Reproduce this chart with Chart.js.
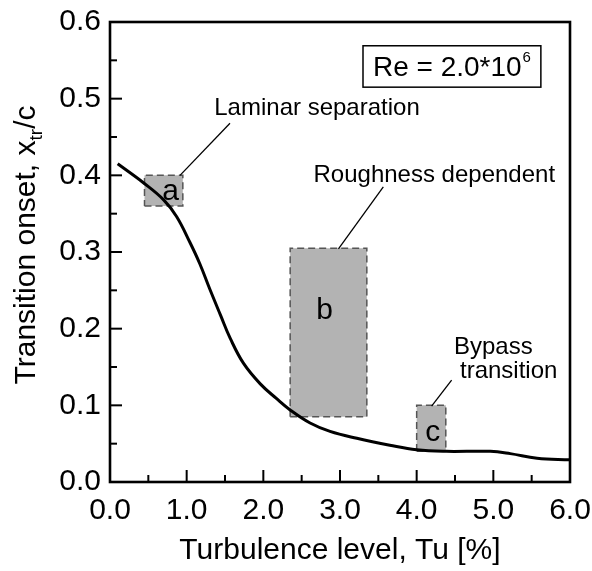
<!DOCTYPE html>
<html><head><meta charset="utf-8">
<script src="https://cdn.jsdelivr.net/npm/chart.js@4.4.1/dist/chart.umd.min.js"></script>
<style>html,body{margin:0;padding:0;background:#fff}canvas{display:block}</style>
</head><body>
<canvas id="c" width="592" height="571"></canvas>
<script>
// ---- data ----
const turbulence      = [0.10, 0.44, 0.70, 0.87, 1.04, 1.17, 1.30, 1.44, 1.57, 1.74, 1.96, 2.17, 2.35, 2.61, 2.87, 3.22, 3.65, 4.00, 4.39, 4.96, 5.22, 5.57, 6.00];
const transitionOnset = [0.415,0.390,0.368,0.346,0.313,0.285,0.252,0.218,0.187,0.155,0.128,0.109,0.094,0.077,0.066,0.057,0.048,0.042,0.040,0.040,0.037,0.031,0.029];
const xTickValues = [0, 1, 2, 3, 4, 5, 6];
const yTickValues = [0, 0.1, 0.2, 0.3, 0.4, 0.5, 0.6];
const boxNames = ['a', 'b', 'c'];
const boxX0 = [0.45, 2.35, 4.00];
const boxX1 = [0.95, 3.35, 4.38];
const boxY0 = [0.36, 0.085, 0.040];
const boxY1 = [0.40, 0.305, 0.100];
const boxLabelX = [0.79, 2.80, 4.21];
const boxLabelY = [0.379, 0.224, 0.064];
const annoTexts = ['Laminar separation', 'Roughness dependent', 'Bypass', 'transition'];
const annoX = [2.70, 4.23, 5.00, 5.20];
const annoY = [0.487, 0.400, 0.176, 0.144];
const leaderX0 = [1.565, 3.565, 4.456];
const leaderY0 = [0.468, 0.385, 0.133];
const leaderX1 = [0.913, 2.98, 4.195];
const leaderY1 = [0.400, 0.304, 0.099];
const reBoxX = [3.30, 5.62];
const reBoxY = [0.515, 0.569];
const reText = 'Re = 2.0*10';
const reExp = '6';
const xTitle = 'Turbulence level, Tu [%]';
const yTitleParts = ['Transition onset, x', 'tr', '/c'];

const FONT = '"Liberation Sans", Arial, Helvetica, sans-serif';

// ---- datasets ----
const datasets = [];
datasets.push({
  label: 'curve',
  data: turbulence.map((x, i) => ({x, y: transitionOnset[i]})),
  showLine: true, borderColor: '#000', borderWidth: 3, pointRadius: 0,
  tension: 0.4, fill: false, order: 0
});
boxNames.forEach((n, i) => {
  datasets.push({
    label: 'box ' + n,
    data: [
      {x: boxX0[i], y: boxY0[i]}, {x: boxX1[i], y: boxY0[i]},
      {x: boxX1[i], y: boxY1[i]}, {x: boxX0[i], y: boxY1[i]},
      {x: boxX0[i], y: boxY0[i]}
    ],
    showLine: true, borderColor: '#555', borderWidth: 1.5, borderDash: [7, 4],
    backgroundColor: '#b3b3b3', fill: 'shape', pointRadius: 0, tension: 0, order: 2
  });
});
leaderX0.forEach((x, i) => {
  datasets.push({
    label: 'leader ' + i,
    data: [{x, y: leaderY0[i]}, {x: leaderX1[i], y: leaderY1[i]}],
    showLine: true, borderColor: '#000', borderWidth: 1.3, pointRadius: 0, fill: false, order: 1
  });
});

// ---- decorations plugin ----
const deco = {
  id: 'deco',
  afterDatasetsDraw(chart) {
    const ctx = chart.ctx, xs = chart.scales.x, ys = chart.scales.y, ca = chart.chartArea;
    ctx.save();
    // inward ticks
    ctx.strokeStyle = '#000'; ctx.lineWidth = 2;
    for (let k = 0; k <= 12; k++) {
      const px = xs.getPixelForValue(k * 0.5);
      const len = k % 2 === 0 ? 12 : 7;
      ctx.beginPath(); ctx.moveTo(px, ca.bottom); ctx.lineTo(px, ca.bottom - len); ctx.stroke();
    }
    for (let k = 0; k <= 12; k++) {
      const py = ys.getPixelForValue(k * 0.05);
      const len = k % 2 === 0 ? 12 : 7;
      ctx.beginPath(); ctx.moveTo(ca.left, py); ctx.lineTo(ca.left + len, py); ctx.stroke();
    }
    // frame
    ctx.lineWidth = 2.6;
    ctx.strokeRect(ca.left, ca.top, ca.right - ca.left, ca.bottom - ca.top);

    // box letters
    ctx.fillStyle = '#000';
    ctx.textAlign = 'center'; ctx.textBaseline = 'middle';
    ctx.font = '30px ' + FONT;
    boxNames.forEach((n, i) => {
      ctx.fillText(n, xs.getPixelForValue(boxLabelX[i]), ys.getPixelForValue(boxLabelY[i]));
    });
    // annotations
    ctx.font = '24px ' + FONT;
    annoTexts.forEach((t, i) => {
      ctx.fillText(t, xs.getPixelForValue(annoX[i]), ys.getPixelForValue(annoY[i]));
    });
    // Re box
    const bx0 = xs.getPixelForValue(reBoxX[0]), bx1 = xs.getPixelForValue(reBoxX[1]);
    const by0 = ys.getPixelForValue(reBoxY[1]), by1 = ys.getPixelForValue(reBoxY[0]);
    ctx.lineWidth = 1.5; ctx.strokeStyle = '#000';
    ctx.strokeRect(bx0, by0, bx1 - bx0, by1 - by0);
    ctx.font = '28px ' + FONT;
    const w1 = ctx.measureText(reText).width;
    ctx.font = '15px ' + FONT;
    const w2 = ctx.measureText(reExp).width;
    const cx = (bx0 + bx1) / 2, cy = (by0 + by1) / 2 + 2;
    const sx = cx - (w1 + w2 + 1) / 2;
    ctx.textAlign = 'left'; ctx.textBaseline = 'middle';
    ctx.font = '28px ' + FONT;
    ctx.fillText(reText, sx, cy);
    ctx.font = '15px ' + FONT;
    ctx.fillText(reExp, sx + w1 + 1, cy - 11);

    // y title with subscript
    ctx.translate(25, 245);
    ctx.rotate(-Math.PI / 2);
    const f1 = '30px ' + FONT, f2 = '19px ' + FONT;
    ctx.font = f1; const a = ctx.measureText(yTitleParts[0]).width;
    ctx.font = f2; const b = ctx.measureText(yTitleParts[1]).width;
    ctx.font = f1; const c = ctx.measureText(yTitleParts[2]).width;
    let x0 = -(a + b + c) / 2;
    ctx.textBaseline = 'alphabetic';
    ctx.font = f1; ctx.fillText(yTitleParts[0], x0, 10);
    ctx.font = f2; ctx.fillText(yTitleParts[1], x0 + a, 17);
    ctx.font = f1; ctx.fillText(yTitleParts[2], x0 + a + b, 10);
    ctx.restore();
  }
};

new Chart(document.getElementById('c'), {
  type: 'scatter',
  data: { datasets },
  options: {
    responsive: false, animation: false,
    layout: { padding: { left: 0, right: 22, top: 22, bottom: 0 } },
    plugins: { legend: { display: false }, tooltip: { enabled: false } },
    scales: {
      x: {
        type: 'linear', min: 0, max: 6,
        afterFit(s) { s.height = 89; s.paddingLeft = 0; s.paddingRight = 0; },
        afterBuildTicks(s) { s.ticks = xTickValues.map(v => ({value: v})); },
        ticks: { color: '#000', font: { size: 30, family: FONT }, padding: 11, maxRotation: 0,
                 callback: v => Number(v).toFixed(1) },
        grid: { display: false, drawTicks: false },
        border: { display: false },
        title: { display: true, text: xTitle, color: '#000', font: { size: 30, family: FONT },
                 padding: { top: 0, bottom: 2 } }
      },
      y: {
        type: 'linear', min: 0, max: 0.6,
        afterFit(s) { s.width = 110; s.paddingTop = 0; s.paddingBottom = 0; },
        afterBuildTicks(s) { s.ticks = yTickValues.map(v => ({value: v})); },
        ticks: { color: '#000', font: { size: 30, family: FONT }, padding: 9,
                 callback: v => Number(v).toFixed(1) },
        grid: { display: false, drawTicks: false },
        border: { display: false }
      }
    }
  },
  plugins: [deco]
});
</script>
</body></html>
